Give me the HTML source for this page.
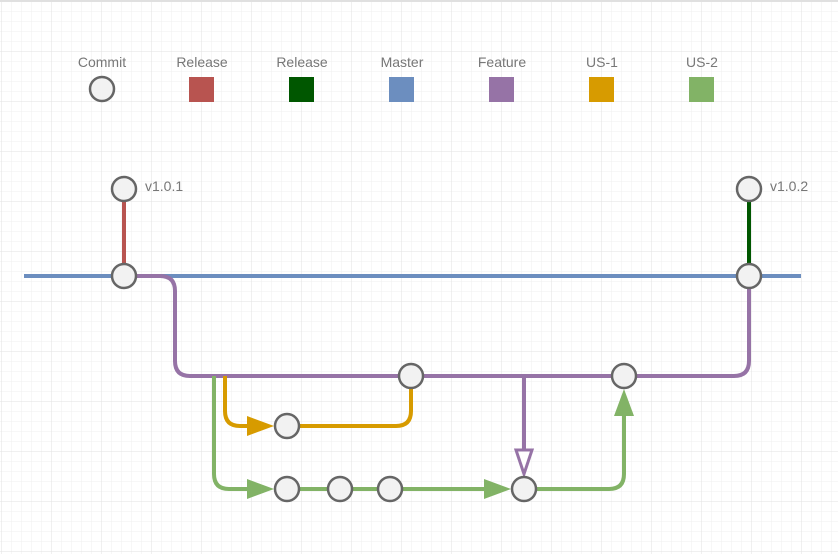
<!DOCTYPE html>
<html><head><meta charset="utf-8"><style>
html,body{margin:0;padding:0;background:#fff}
svg{display:block}
text{font-family:"Liberation Sans",sans-serif;font-size:14px;fill:#777}
</style></head><body>
<svg width="838" height="554" viewBox="0 0 838 554" xmlns="http://www.w3.org/2000/svg">
<defs>
<pattern id="mi" width="10" height="10" patternUnits="userSpaceOnUse" x="1" y="1"><path d="M0 0H10M0 0V10" stroke="#efefef" stroke-width="1" fill="none"/></pattern>
<pattern id="ma" width="50" height="50" patternUnits="userSpaceOnUse" x="1" y="1"><path d="M0 0H50M0 0V50" stroke="#e2e2e2" stroke-width="1" fill="none"/></pattern>
</defs>
<rect width="838" height="554" fill="url(#mi)"/>
<rect width="838" height="554" fill="url(#ma)"/>
<rect x="0" y="0" width="838" height="2" fill="#e0e0e0"/>

<g text-anchor="middle">
<text x="102" y="67">Commit</text>
<text x="202" y="67">Release</text>
<text x="302" y="67">Release</text>
<text x="402" y="67">Master</text>
<text x="502" y="67">Feature</text>
<text x="602" y="67">US-1</text>
<text x="702" y="67">US-2</text>
</g>
<circle cx="102" cy="89" r="12" fill="#f2f2f2" stroke="#666" stroke-width="2.5"/>
<rect x="189" y="77" width="25" height="25" fill="#b85450"/>
<rect x="289" y="77" width="25" height="25" fill="#005700"/>
<rect x="389" y="77" width="25" height="25" fill="#6c8ebf"/>
<rect x="489" y="77" width="25" height="25" fill="#9673a6"/>
<rect x="589" y="77" width="25" height="25" fill="#d79b00"/>
<rect x="689" y="77" width="25" height="25" fill="#82b366"/>

<line x1="24" y1="276" x2="801" y2="276" stroke="#6c8ebf" stroke-width="4"/>
<line x1="124" y1="189" x2="124" y2="276" stroke="#b85450" stroke-width="4"/>
<line x1="749" y1="189" x2="749" y2="276" stroke="#005700" stroke-width="4"/>
<path d="M124 276H160Q175 276 175 291V361Q175 376 190 376H734Q749 376 749 361V276" fill="none" stroke="#9673a6" stroke-width="4"/>
<path d="M225 376V411Q225 426 240 426H252" fill="none" stroke="#d79b00" stroke-width="4"/>
<polygon points="247,416 247,436 274,426" fill="#d79b00"/>
<path d="M287 426H396Q411 426 411 411V376" fill="none" stroke="#d79b00" stroke-width="4"/>
<path d="M214 376V474Q214 489 229 489H252" fill="none" stroke="#82b366" stroke-width="4"/>
<polygon points="247,479 247,499 274,489" fill="#82b366"/>
<path d="M287 489H486" fill="none" stroke="#82b366" stroke-width="4"/>
<polygon points="484,479 484,499 511,489" fill="#82b366"/>
<path d="M524 489H609Q624 489 624 474V412" fill="none" stroke="#82b366" stroke-width="4"/>
<polygon points="614,416 634,416 624,389" fill="#82b366"/>
<line x1="524" y1="376" x2="524" y2="452" stroke="#9673a6" stroke-width="4"/>
<polygon points="516,450 532,450 524,474" fill="#fff" stroke="#9673a6" stroke-width="3"/>

<g fill="#f2f2f2" stroke="#666" stroke-width="2.5">
<circle cx="124" cy="189" r="12"/>
<circle cx="124" cy="276" r="12"/>
<circle cx="749" cy="189" r="12"/>
<circle cx="749" cy="276" r="12"/>
<circle cx="411" cy="376" r="12"/>
<circle cx="624" cy="376" r="12"/>
<circle cx="287" cy="426" r="12"/>
<circle cx="287" cy="489" r="12"/>
<circle cx="340" cy="489" r="12"/>
<circle cx="390" cy="489" r="12"/>
<circle cx="524" cy="489" r="12"/>
</g>
<text x="145" y="191">v1.0.1</text>
<text x="770" y="191">v1.0.2</text>
</svg>
</body></html>
